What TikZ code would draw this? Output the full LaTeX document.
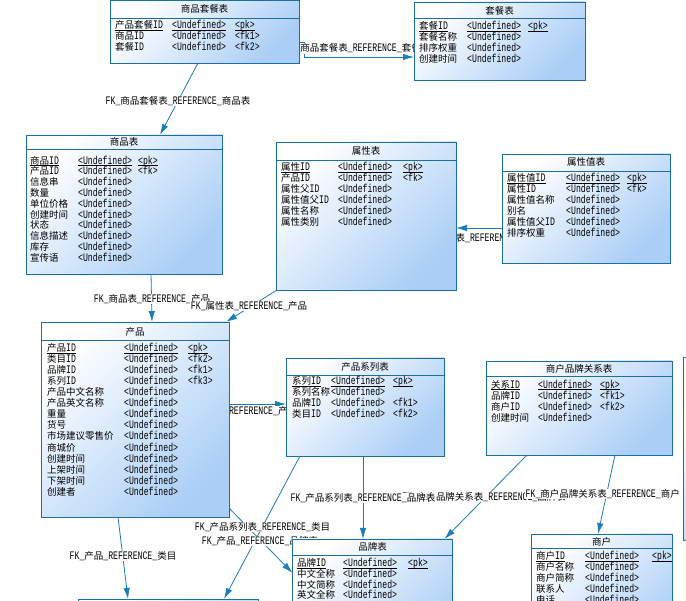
\documentclass[tikz,border=0pt]{standalone}
\usepackage{fontspec}
\setmainfont{Liberation Mono}[FakeStretch=0.71]
\newfontfamily\cjkfont[Scale=0.826]{Noto Sans CJK SC}
\newcommand\zh[1]{{\cjkfont #1}}
\newcommand\U{<Undefined>}
\newcommand\ul[1]{\setbox0\hbox{#1}\rlap{\rule[-1.9pt]{\wd0}{0.7pt}}\box0}
\usetikzlibrary{arrows.meta,calc}
\pgfdeclarelayer{bg}
\pgfdeclarelayer{lines}
\pgfdeclarelayer{labelsA}
\pgfdeclarelayer{labels}
\pgfsetlayers{bg,lines,labelsA,labels,main}
\definecolor{boxline}{RGB}{30,110,160}
\definecolor{conline}{RGB}{25,125,185}
\definecolor{boxfill}{RGB}{170,206,246}
\newcount\rn
\newcommand\setcols[3]{\def\cA{#1}\def\cB{#2}\def\cC{#3}}
\newcommand\trw[4]{\global\advance\rn by 1
  \node[rowt] (ra\the\rn) at (\cA,#1) {#2};
  \node[rowt] (rb\the\rn) at (\cB,#1) {#3};
  \node[rowt] (rc\the\rn) at (\cC,#1) {#4};}
\tikzset{
  tbl/.style={draw=boxline, line width=0.8pt, top color=white, bottom color=boxfill,
    shading angle=45, anchor=north west, inner sep=0pt, outer sep=0pt},
  rowt/.style={anchor=base west, inner sep=0pt},
  titl/.style={anchor=base, inner sep=0pt},
  tline/.style={draw=boxline, line width=0.8pt},
  conn/.style={draw=conline, line width=0.8pt, -{Latex[length=11pt,width=6.5pt]}},
  lab/.style={fill=white, inner sep=0.5pt},
}
\begin{document}
\begin{tikzpicture}[x=1pt,y=-1pt,font=\fontsize{11.5}{13}\selectfont]
\useasboundingbox (0,0) rectangle (686,601);
\begin{pgfonlayer}{bg}
\fill[white] (0,0) rectangle (686,601);
\end{pgfonlayer}

% ---------- tables ----------
% 商品套餐表
\node[tbl, minimum width=189, minimum height=63] (spt) at (110,0) {};
\draw[tline] ($(spt.north west)+(0,18)$) -- ($(spt.north east)+(0,18)$);
\node[titl] (spt-t) at (204.5,12.5) {\zh{商品套餐表}};
\setcols{115}{172}{235}
\trw{29}{\ul{\zh{产品套餐}ID}}{\ul{\U}}{\ul{<pk>}}
\trw{40}{\zh{商品}ID}{\U}{<fk1>}
\trw{51}{\zh{套餐}ID}{\U}{<fk2>}

% 套餐表
\node[tbl, minimum width=171, minimum height=78] (tc) at (414,2) {};
\draw[tline] ($(tc.north west)+(0,16.5)$) -- ($(tc.north east)+(0,16.5)$);
\node[titl] (tc-t) at (499.5,14.5) {\zh{套餐表}};
\setcols{419}{467}{528}
\trw{29.5}{\ul{\zh{套餐}ID}}{\ul{\U}}{\ul{<pk>}}
\trw{40.5}{\zh{套餐名称}}{\U}{}
\trw{51.5}{\zh{排序权重}}{\U}{}
\trw{62.5}{\zh{创建时间}}{\U}{}

% 商品表
\node[tbl, minimum width=196, minimum height=139] (spb) at (26,135) {};
\draw[tline] ($(spb.north west)+(0,14)$) -- ($(spb.north east)+(0,14)$);
\node[titl] (spb-t) at (124,146) {\zh{商品表}};
\setcols{30}{78}{138}
\trw{164.2}{\ul{\zh{商品}ID}}{\ul{\U}}{\ul{<pk>}}
\trw{175}{\zh{产品}ID}{\U}{<fk>}
\trw{185.8}{\zh{信息串}}{\U}{}
\trw{196.6}{\zh{数量}}{\U}{}
\trw{207.4}{\zh{单位价格}}{\U}{}
\trw{218.2}{\zh{创建时间}}{\U}{}
\trw{229}{\zh{状态}}{\U}{}
\trw{239.8}{\zh{信息描述}}{\U}{}
\trw{250.6}{\zh{库存}}{\U}{}
\trw{261.4}{\zh{宣传语}}{\U}{}

% 属性表
\node[tbl, minimum width=180, minimum height=148] (sx) at (276,142) {};
\draw[tline] ($(sx.north west)+(0,18.5)$) -- ($(sx.north east)+(0,18.5)$);
\node[titl] (sx-t) at (366,154.5) {\zh{属性表}};
\setcols{281}{338}{403}
\trw{170.8}{\ul{\zh{属性}ID}}{\ul{\U}}{\ul{<pk>}}
\trw{181.75}{\zh{产品}ID}{\U}{<fk>}
\trw{192.7}{\zh{属性父}ID}{\U}{}
\trw{203.65}{\zh{属性值父}ID}{\U}{}
\trw{214.6}{\zh{属性名称}}{\U}{}
\trw{225.55}{\zh{属性类别}}{\U}{}

% 属性值表
\node[tbl, minimum width=168, minimum height=109] (sxz) at (502,154) {};
\draw[tline] ($(sxz.north west)+(0,17)$) -- ($(sxz.north east)+(0,17)$);
\node[titl] (sxz-t) at (586,166) {\zh{属性值表}};
\setcols{507}{566}{627}
\trw{181.8}{\ul{\zh{属性值}ID}}{\ul{\U}}{\ul{<pk>}}
\trw{192.7}{\zh{属性}ID}{\U}{<fk>}
\trw{203.6}{\zh{属性值名称}}{\U}{}
\trw{214.5}{\zh{别名}}{\U}{}
\trw{225.4}{\zh{属性值父}ID}{\U}{}
\trw{236.3}{\zh{排序权重}}{\U}{}

% 产品
\node[tbl, minimum width=188, minimum height=195] (cp) at (41,322) {};
\draw[tline] ($(cp.north west)+(0,18)$) -- ($(cp.north east)+(0,18)$);
\node[titl] (cp-t) at (135,336) {\zh{产品}};
\setcols{47}{124}{188}
\trw{351.8}{\ul{\zh{产品}ID}}{\ul{\U}}{\ul{<pk>}}
\trw{362.8}{\zh{类目}ID}{\U}{<fk2>}
\trw{373.9}{\zh{品牌}ID}{\U}{<fk1>}
\trw{384.9}{\zh{系列}ID}{\U}{<fk3>}
\trw{395.9}{\zh{产品中文名称}}{\U}{}
\trw{406.95}{\zh{产品英文名称}}{\U}{}
\trw{418}{\zh{重量}}{\U}{}
\trw{429}{\zh{货号}}{\U}{}
\trw{440}{\zh{市场建议零售价}}{\U}{}
\trw{451.1}{\zh{商城价}}{\U}{}
\trw{462.1}{\zh{创建时间}}{\U}{}
\trw{473.1}{\zh{上架时间}}{\U}{}
\trw{484.2}{\zh{下架时间}}{\U}{}
\trw{495.2}{\zh{创建者}}{\U}{}

% 产品系列表
\node[tbl, minimum width=158, minimum height=98] (cpxl) at (286,358) {};
\draw[tline] ($(cpxl.north west)+(0,17)$) -- ($(cpxl.north east)+(0,17)$);
\node[titl] (cpxl-t) at (365,370.5) {\zh{产品系列表}};
\setcols{292}{331}{393}
\trw{384.5}{\ul{\zh{系列}ID}}{\ul{\U}}{\ul{<pk>}}
\trw{395.6}{\zh{系列名称}}{\U}{}
\trw{406.7}{\zh{品牌}ID}{\U}{<fk1>}
\trw{417.8}{\zh{类目}ID}{\U}{<fk2>}

% 商户品牌关系表
\node[tbl, minimum width=186, minimum height=94] (shpp) at (486,361) {};
\draw[tline] ($(shpp.north west)+(0,15.5)$) -- ($(shpp.north east)+(0,15.5)$);
\node[titl] (shpp-t) at (579,372.5) {\zh{商户品牌关系表}};
\setcols{491}{538}{600}
\trw{388.2}{\ul{\zh{关系}ID}}{\ul{\U}}{\ul{<pk>}}
\trw{399.2}{\zh{品牌}ID}{\U}{<fk1>}
\trw{410.2}{\zh{商户}ID}{\U}{<fk2>}
\trw{421.2}{\zh{创建时间}}{\U}{}

% 品牌表
\node[tbl, minimum width=160, minimum height=120] (ppb) at (292.5,539) {};
\draw[tline] ($(ppb.north west)+(0,16)$) -- ($(ppb.north east)+(0,16)$);
\node[titl] (ppb-t) at (372.5,550.8) {\zh{品牌表}};
\setcols{297}{343}{408}
\trw{566.8}{\ul{\zh{品牌}ID}}{\ul{\U}}{\ul{<pk>}}
\trw{577.4}{\zh{中文全称}}{\U}{}
\trw{588}{\zh{中文简称}}{\U}{}
\trw{598.6}{\zh{英文全称}}{\U}{}

% 商户
\node[tbl, minimum width=140.5, minimum height=120] (sh) at (531.5,534) {};
\draw[tline] ($(sh.north west)+(0,14.5)$) -- ($(sh.north east)+(0,14.5)$);
\node[titl] (sh-t) at (601.7,545.2) {\zh{商户}};
\setcols{536}{585}{652}
\trw{559.5}{\ul{\zh{商户}ID}}{\ul{\U}}{\ul{<pk>}}
\trw{570.5}{\zh{商户名称}}{\U}{}
\trw{581.5}{\zh{商户简称}}{\U}{}
\trw{592.5}{\zh{联系人}}{\U}{}
\trw{603.5}{\zh{电话}}{\U}{}

% tables cut off by the picture's edges
\node[tbl, minimum width=180, minimum height=100] (lm) at (78,599) {};
\node[tbl, minimum width=120, minimum height=183] (ext) at (683,357) {};

% ---------- connectors ----------
\begin{pgfonlayer}{lines}
\draw[conn] ($(spt.north east)+(0,42)$) -- ++(5,0) |- ($(tc.north west)+(0,55)$);
\draw[conn] ($(spt.south west)+(88,0)$) -- ($(spb.north west)+(134,0)$);
\draw[conn] ($(spb.south west)+(125,0)$) -- ($(cp.north west)+(111,0)$);
\draw[conn] ($(sx.south west)+(1,0)$) -- ($(cp.north west)+(185,0)$);
\draw[conn] ($(sxz.north west)+(0,74)$) -- ($(sx.north east)+(0,86)$);
\draw[conn] ($(cp.north east)+(0,82)$) -- ($(cpxl.north west)+(0,46)$);
\draw[conn] ($(cpxl.south west)+(77,0)$) -- ($(ppb.north west)+(70.5,0)$);
\draw[conn] ($(shpp.south west)+(41,0)$) -- ($(ppb.north west)+(152,0)$);
\draw[conn] ($(shpp.south west)+(129,0)$) -- ($(sh.north west)+(66.5,0)$);
\draw[conn] ($(cpxl.south west)+(14,0)$) -- ($(lm.north west)+(146,0)$);
\draw[conn] ($(cp.south west)+(77,0)$) -- ($(lm.north west)+(50,0)$);
\draw[conn] ($(cp.north east)+(0,186)$) -- ($(ppb.north west)+(0,34)$);
\end{pgfonlayer}

% ---------- labels ----------
\begin{pgfonlayer}{labelsA}
\node[lab, anchor=west] (l8) at (401.6,497) {FK\_\zh{商户品牌关系表}\_REFERENCE\_\zh{品牌表}};
\end{pgfonlayer}
\begin{pgfonlayer}{labels}
\node[lab] (l1) at (358,48.5) {FK\_\zh{商品套餐表}\_REFERENCE\_\zh{套餐表}};
\node[lab] (l2) at (178,100.7) {FK\_\zh{商品套餐表}\_REFERENCE\_\zh{商品表}};
\node[lab] (l3) at (152,299) {FK\_\zh{商品表}\_REFERENCE\_\zh{产品}};
\node[lab] (l4) at (249,306) {FK\_\zh{属性表}\_REFERENCE\_\zh{产品}};
\node[lab] (l5) at (480,238) {FK\_\zh{属性值表}\_REFERENCE\_\zh{属性表}};
\node[lab] (l6) at (258,411) {FK\_\zh{产品}\_REFERENCE\_\zh{产品系列表}};
\node[lab] (l7) at (363,498) {FK\_\zh{产品系列表}\_REFERENCE\_\zh{品牌表}};
\node[lab, anchor=west] (l9) at (525,494) {FK\_\zh{商户品牌关系表}\_REFERENCE\_\zh{商户}};
\node[lab] (l10) at (262.5,527) {FK\_\zh{产品系列表}\_REFERENCE\_\zh{类目}};
\node[lab] (l11) at (260,541) {FK\_\zh{产品}\_REFERENCE\_\zh{品牌表}};
\node[lab] (l12) at (123,556) {FK\_\zh{产品}\_REFERENCE\_\zh{类目}};
\end{pgfonlayer}
\end{tikzpicture}
\end{document}
